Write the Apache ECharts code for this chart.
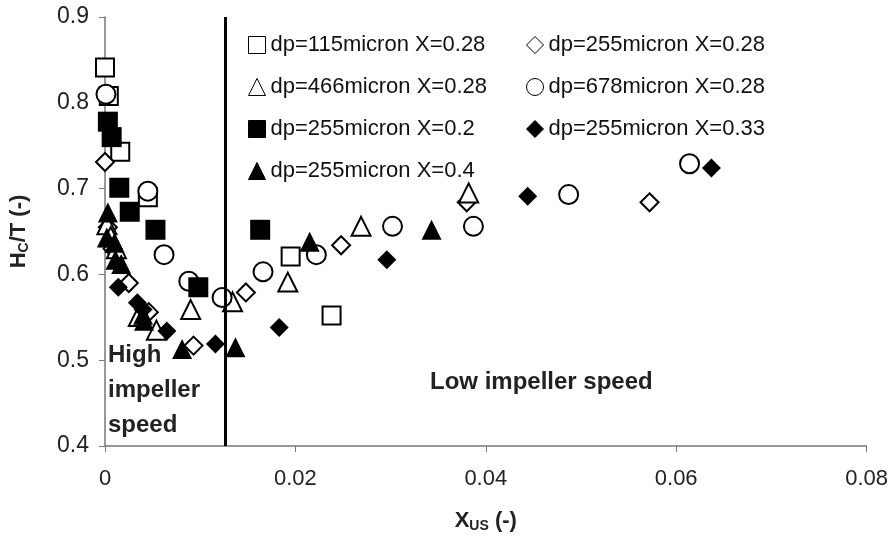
<!DOCTYPE html>
<html>
<head>
<meta charset="utf-8">
<script src="https://cdn.jsdelivr.net/npm/echarts@6/dist/echarts.min.js"></script>
<style>
html, body { margin: 0; padding: 0; background: #fff; }
#chart { width: 891px; height: 540px; }
</style>
</head>
<body>
<div id="chart"></div>
<script>
// [x_us, Hc/T] pairs
var dp115_x028 = [[0.0000, 0.841], [0.0004, 0.808], [0.0016, 0.743], [0.0045, 0.690], [0.0195, 0.621], [0.0238, 0.552]];
var dp255_x028 = [[-0.0002, 0.810], [-0.0003, 0.762], [0.0000, 0.731], [-0.0002, 0.695], [0.0003, 0.655], [0.0008, 0.630],
	[0.0025, 0.590], [0.0046, 0.556], [0.0093, 0.517], [0.0148, 0.579], [0.0248, 0.634], [0.0380, 0.684], [0.0572, 0.684]];
var dp466_x028 = [[0.0002, 0.658], [0.0006, 0.644], [0.0012, 0.630], [0.0035, 0.551], [0.0054, 0.535], [0.0090, 0.559],
	[0.0134, 0.568], [0.0192, 0.591], [0.0269, 0.656], [0.0382, 0.695]];
var dp678_x028 = [[0.0001, 0.810], [0.0045, 0.697], [0.0062, 0.623], [0.0088, 0.592], [0.0123, 0.573], [0.0166, 0.603],
	[0.0222, 0.623], [0.0302, 0.656], [0.0387, 0.656], [0.0487, 0.693], [0.0614, 0.729]];
var dp255_x020 = [[0.0003, 0.778], [0.0007, 0.760], [0.0015, 0.701], [0.0026, 0.673], [0.0053, 0.652], [0.0098, 0.585], [0.0163, 0.652]];
var dp255_x033 = [[0.0014, 0.585], [0.0034, 0.567], [0.0040, 0.559], [0.0065, 0.534], [0.0116, 0.519], [0.0183, 0.538],
	[0.0296, 0.617], [0.0444, 0.691], [0.0637, 0.724]];
var dp255_x040 = [[0.0003, 0.672], [0.0002, 0.643], [0.0010, 0.637], [0.0011, 0.617], [0.0017, 0.612], [0.0040, 0.553],
	[0.0041, 0.546], [0.0081, 0.513], [0.0137, 0.515], [0.0215, 0.638], [0.0343, 0.652]];

var seriesNames = ['dp=115micron X=0.28', 'dp=255micron X=0.28', 'dp=466micron X=0.28', 'dp=678micron X=0.28',
	'dp=255micron X=0.2', 'dp=255micron X=0.33', 'dp=255micron X=0.4'];
var xTicks = [0, 0.02, 0.04, 0.06, 0.08];
var yTicks = [0.4, 0.5, 0.6, 0.7, 0.8, 0.9];
var boundaryX = 0.0126; // high / low impeller speed boundary

var chart = echarts.init(document.getElementById('chart'));

var openStyle = { color: '#fff', borderColor: '#000', borderWidth: 2, opacity: 1 };
var fillStyle = { color: '#000', borderColor: '#000', borderWidth: 0, opacity: 1 };

function sc(name, data, symbol, size, style) {
	return {
		name: name,
		type: 'scatter',
		data: data,
		symbol: symbol,
		symbolSize: size,
		itemStyle: style,
		emphasis: { disabled: true }
	};
}

var series = [
	sc(seriesNames[0], dp115_x028, 'rect', 18, openStyle),
	sc(seriesNames[1], dp255_x028, 'diamond', 18, openStyle),
	sc(seriesNames[2], dp466_x028, 'triangle', 19, openStyle),
	sc(seriesNames[3], dp678_x028, 'circle', 19, openStyle),
	sc(seriesNames[4], dp255_x020, 'rect', 20, fillStyle),
	sc(seriesNames[5], dp255_x033, 'diamond', 19, fillStyle),
	sc(seriesNames[6], dp255_x040, 'triangle', 20, fillStyle)
];
series[0].markLine = {
	silent: true,
	symbol: 'none',
	precision: 4,
	label: { show: false },
	lineStyle: { color: '#000', width: 3, type: 'solid' },
	data: [{ xAxis: boundaryX }]
};

var legendText = { fontFamily: 'Liberation Sans', fontSize: 22, color: '#111' };

var option = {
	backgroundColor: '#fff',
	animation: false,
	grid: { left: 104, right: 24, top: 17, bottom: 94 },
	legend: [
		{
			orient: 'vertical', left: 243, top: 29,
			itemWidth: 17, itemHeight: 17, itemGap: 20,
			textStyle: legendText,
			itemStyle: { borderWidth: 1 },
			data: [seriesNames[0], seriesNames[2], seriesNames[4], seriesNames[6]]
		},
		{
			orient: 'vertical', left: 521, top: 29,
			itemWidth: 17, itemHeight: 17, itemGap: 20,
			textStyle: legendText,
			itemStyle: { borderWidth: 1 },
			data: [seriesNames[1], seriesNames[3], seriesNames[5]]
		}
	],
	xAxis: {
		type: 'value',
		min: xTicks[0], max: xTicks[xTicks.length - 1], interval: 0.02,
		name: '{a|X}{b|US}{a| (-)}',
		nameLocation: 'middle', nameGap: 63,
		nameTextStyle: {
			rich: {
				a: { fontFamily: 'Liberation Sans', fontSize: 22, fontWeight: 'bold', color: '#222' },
				b: { fontFamily: 'Liberation Sans', fontSize: 14, fontWeight: 'bold', color: '#222', padding: [10, 0, 0, 0] }
			}
		},
		axisLine: { lineStyle: { color: '#777', width: 1.5 } },
		axisTick: { show: true, length: 6, lineStyle: { color: '#777' } },
		axisLabel: { fontFamily: 'Liberation Sans', fontSize: 22, color: '#222', margin: 22 },
		splitLine: { show: false }
	},
	yAxis: {
		type: 'value',
		min: yTicks[0], max: yTicks[yTicks.length - 1], interval: 0.1,
		name: '{a|H}{b|C}{a|/T (-)}',
		nameLocation: 'middle', nameGap: 74,
		nameTextStyle: {
			rich: {
				a: { fontFamily: 'Liberation Sans', fontSize: 22, fontWeight: 'bold', color: '#222' },
				b: { fontFamily: 'Liberation Sans', fontSize: 14, fontWeight: 'bold', color: '#222', padding: [10, 0, 0, 0] }
			}
		},
		axisLine: { show: true, lineStyle: { color: '#777', width: 1.5 } },
		axisTick: { show: true, length: 6, lineStyle: { color: '#777' } },
		axisLabel: { fontFamily: 'Liberation Sans', fontSize: 23, color: '#222', margin: 16,
			formatter: function (v) { return v.toFixed(1); } },
		splitLine: { show: false }
	},
	graphic: [
		{
			type: 'text', left: 108, top: 338, silent: true,
			style: { text: 'High\nimpeller\nspeed', fontFamily: 'Liberation Sans', fontSize: 24, fontWeight: 'bold',
				lineHeight: 35, fill: '#222' }
		},
		{
			type: 'text', left: 430, top: 370, silent: true,
			style: { text: 'Low impeller speed', fontFamily: 'Liberation Sans', fontSize: 24, fontWeight: 'bold', fill: '#222' }
		}
	],
	series: series
};

chart.setOption(option);
</script>
</body>
</html>
